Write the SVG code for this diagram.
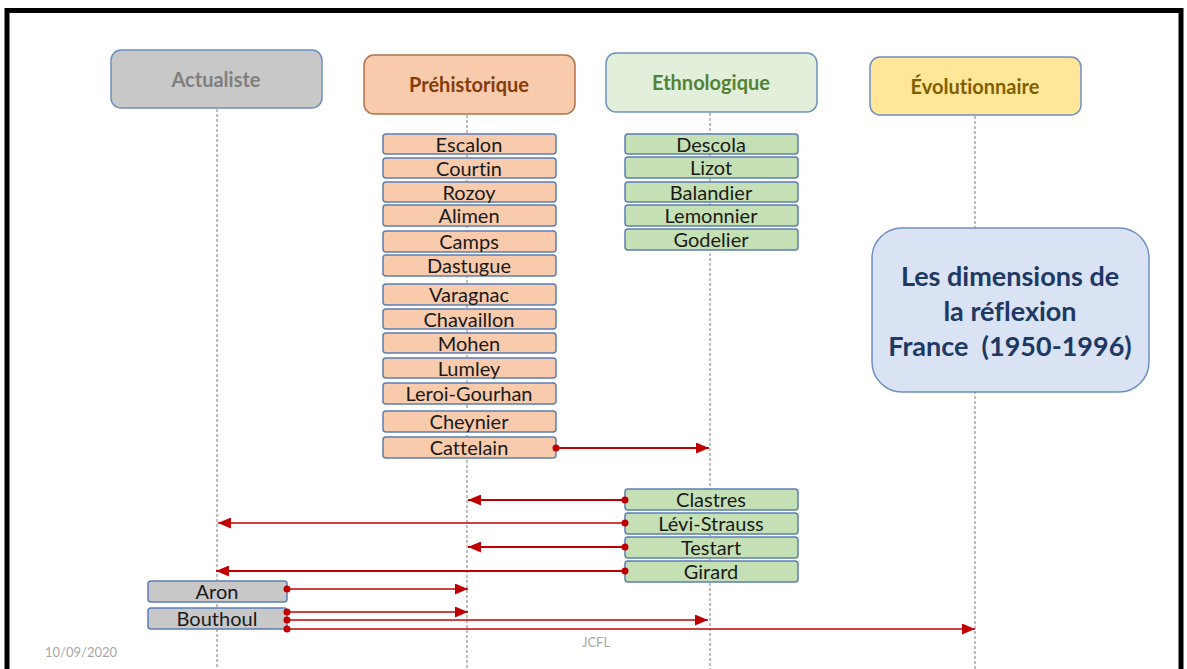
<svg xmlns="http://www.w3.org/2000/svg" width="1187" height="669" viewBox="0 0 1187 669">
<defs>
<marker id="arr" markerUnits="userSpaceOnUse" markerWidth="13" markerHeight="11" refX="13" refY="5.5" orient="auto">
<path d="M0,0 L13,5.5 L0,11 z" fill="#c00000"/>
</marker>
<marker id="dot" markerUnits="userSpaceOnUse" markerWidth="8" markerHeight="8" refX="4" refY="4">
<circle cx="4" cy="4" r="3.5" fill="#c00000"/>
</marker>
</defs>
<style>
text{font-variant-ligatures:none}
.hdr{stroke-width:1.5}
.ht{font-family:Lato,"Open Sans",sans-serif;font-weight:bold;font-size:20px;text-anchor:middle}
.it{stroke:#5b7db5;stroke-width:1.5}
.itx{font-family:Lato,"Open Sans",sans-serif;font-size:20px;text-anchor:middle;fill:#1a1a1a}
.pre{fill:#f8cbad}
.eth{fill:#c5e0b4}
.act{fill:#c8c8c8}
.life{stroke:#7f7f7f;stroke-width:1;stroke-dasharray:3,2;fill:none}
.con{stroke:#c00000;stroke-width:2;fill:none;marker-start:url(#dot);marker-end:url(#arr)}
.foot{font-family:Lato,"Open Sans",sans-serif;font-size:13px;fill:#a6a6a6}
</style>
<rect x="0" y="0" width="1187" height="669" fill="#ffffff"/>
<rect x="7" y="10.5" width="1174" height="700" fill="none" stroke="#000" stroke-width="5"/>

<g id="lifelines">
<line class="life" x1="217" y1="109" x2="217" y2="669"/>
<line class="life" x1="467" y1="115" x2="467" y2="669"/>
<line class="life" x1="710" y1="113" x2="710" y2="669"/>
<line class="life" x1="975" y1="116" x2="975" y2="669"/>
</g>

<g id="actualiste"><rect class="hdr" x="111" y="50" width="211" height="58" rx="10" fill="#c8c8c8" stroke="#6f8fbf"/><text class="ht" x="216" y="87" fill="#7f7f7f">Actualiste</text></g>
<g id="prehistorique"><rect class="hdr" x="364" y="55" width="211" height="59" rx="10" fill="#f8cbad" stroke="#b0714a"/><text class="ht" x="469" y="92" fill="#843c0c">Préhistorique</text></g>
<g id="ethnologique"><rect class="hdr" x="606" y="53" width="211" height="59" rx="10" fill="#e2efda" stroke="#7090c0"/><text class="ht" x="711" y="90" fill="#548235">Ethnologique</text></g>
<g id="evolutionnaire"><rect class="hdr" x="870" y="57" width="211" height="58" rx="10" fill="#ffe699" stroke="#6f8fbf"/><text class="ht" x="975" y="94" fill="#7f6000">Évolutionnaire</text></g>

<g id="escalon"><rect class="it pre" x="383" y="134" width="173" height="20" rx="3"/><text class="itx" x="469" y="152">Escalon</text></g>
<g id="courtin"><rect class="it pre" x="383" y="158" width="173" height="20" rx="3"/><text class="itx" x="469" y="176">Courtin</text></g>
<g id="rozoy"><rect class="it pre" x="383" y="182" width="173" height="20" rx="3"/><text class="itx" x="469" y="200">Rozoy</text></g>
<g id="alimen"><rect class="it pre" x="383" y="205" width="173" height="21" rx="3"/><text class="itx" x="469" y="223">Alimen</text></g>
<g id="camps"><rect class="it pre" x="383" y="231" width="173" height="21" rx="3"/><text class="itx" x="469" y="249">Camps</text></g>
<g id="dastugue"><rect class="it pre" x="383" y="255" width="173" height="21" rx="3"/><text class="itx" x="469" y="273">Dastugue</text></g>
<g id="varagnac"><rect class="it pre" x="383" y="284" width="173" height="21" rx="3"/><text class="itx" x="469" y="302">Varagnac</text></g>
<g id="chavaillon"><rect class="it pre" x="383" y="309" width="173" height="20" rx="3"/><text class="itx" x="469" y="327">Chavaillon</text></g>
<g id="mohen"><rect class="it pre" x="383" y="333" width="173" height="20" rx="3"/><text class="itx" x="469" y="351">Mohen</text></g>
<g id="lumley"><rect class="it pre" x="383" y="358" width="173" height="20" rx="3"/><text class="itx" x="469" y="376">Lumley</text></g>
<g id="leroi-gourhan"><rect class="it pre" x="383" y="383" width="173" height="21" rx="3"/><text class="itx" x="469" y="401">Leroi-Gourhan</text></g>
<g id="cheynier"><rect class="it pre" x="383" y="411" width="173" height="21" rx="3"/><text class="itx" x="469" y="429">Cheynier</text></g>
<g id="cattelain"><rect class="it pre" x="383" y="437" width="173" height="21" rx="3"/><text class="itx" x="469" y="455">Cattelain</text></g>

<g id="descola"><rect class="it eth" x="625" y="134" width="173" height="20" rx="3"/><text class="itx" x="711" y="152">Descola</text></g>
<g id="lizot"><rect class="it eth" x="625" y="157" width="173" height="21" rx="3"/><text class="itx" x="711" y="175">Lizot</text></g>
<g id="balandier"><rect class="it eth" x="625" y="182" width="173" height="20" rx="3"/><text class="itx" x="711" y="200">Balandier</text></g>
<g id="lemonnier"><rect class="it eth" x="625" y="205" width="173" height="21" rx="3"/><text class="itx" x="711" y="223">Lemonnier</text></g>
<g id="godelier"><rect class="it eth" x="625" y="229" width="173" height="21" rx="3"/><text class="itx" x="711" y="247">Godelier</text></g>

<g id="clastres"><rect class="it eth" x="625" y="489" width="173" height="21" rx="3"/><text class="itx" x="711" y="507">Clastres</text></g>
<g id="levi-strauss"><rect class="it eth" x="625" y="513" width="173" height="21" rx="3"/><text class="itx" x="711" y="531">Lévi-Strauss</text></g>
<g id="testart"><rect class="it eth" x="625" y="537" width="173" height="21" rx="3"/><text class="itx" x="711" y="555">Testart</text></g>
<g id="girard"><rect class="it eth" x="625" y="561" width="173" height="21" rx="3"/><text class="itx" x="711" y="579">Girard</text></g>

<g id="aron"><rect class="it act" x="148" y="581" width="139" height="21" rx="3"/><text class="itx" x="217" y="599">Aron</text></g>
<g id="bouthoul"><rect class="it act" x="148" y="608" width="139" height="21" rx="3"/><text class="itx" x="217" y="626">Bouthoul</text></g>

<g id="title"><rect x="872" y="228" width="277" height="164" rx="30" fill="#dae3f3" stroke="#6f8fbf" stroke-width="1.5"/>
<text font-family="Lato,'Open Sans',sans-serif" font-weight="bold" font-size="27" fill="#203864" text-anchor="middle" xml:space="preserve"><tspan x="1010" y="286">Les dimensions de</tspan><tspan x="1010" y="321">la réflexion</tspan><tspan x="1010" y="356">France  (1950-1996)</tspan></text></g>

<g id="connectors">
<line class="con" x1="556" y1="448" x2="709" y2="448"/>
<line class="con" x1="625" y1="500" x2="468" y2="500"/>
<line class="con" x1="625" y1="523" x2="218" y2="523" stroke-opacity="0.75" stroke-width="3"/>
<line class="con" x1="625" y1="547" x2="468" y2="547"/>
<line class="con" x1="625" y1="571" x2="216" y2="571"/>
<line class="con" x1="287" y1="589" x2="468" y2="589" stroke-opacity="0.75" stroke-width="3"/>
<line class="con" x1="287" y1="612" x2="468" y2="612" stroke-opacity="0.75" stroke-width="3"/>
<line class="con" x1="287" y1="620" x2="708" y2="620" stroke-opacity="0.75" stroke-width="3"/>
<line class="con" x1="287" y1="629" x2="975" y2="629" stroke-opacity="0.75" stroke-width="3"/>
</g>

<text class="foot" x="45" y="657">10/09/2020</text>
<text class="foot" x="596" y="647" text-anchor="middle" font-size="11">JCFL</text>
</svg>
